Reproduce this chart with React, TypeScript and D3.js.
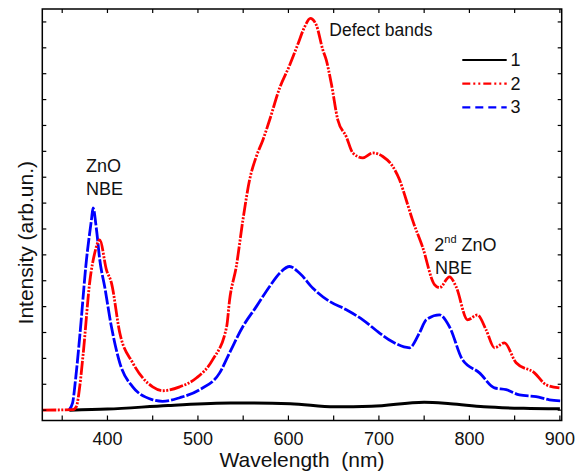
import React from "react";
import * as d3 from "d3";

// sample 1 (black, solid)
const wl1 = [358, 400, 467, 536, 602, 651, 692, 750, 779, 816, 860, 900];
const int1 = [0, 0.04, 0.18, 0.28, 0.25, 0.13, 0.15, 0.31, 0.25, 0.13, 0.07, 0.05];

// sample 2 (red, dash-dot-dot)
const wl2 = [
  328, 362, 365.7, 369.4, 373.3, 380.7, 386, 391.5, 398.9, 404.4, 413.6, 427.9, 450, 461, 479.8,
  498.6, 516.3, 531.7, 535, 542.4, 549.7, 557.1, 564.5, 571.8, 579.2, 590.3, 601, 610, 617.9, 624.2,
  630.8, 638.1, 641.8, 647.7, 654.6, 663.9, 671.2, 682.2, 693.3, 704.3, 715.4, 722.8, 730.2, 737.1,
  748.2, 761.4, 767, 778, 785.4, 797.9, 808.9, 818.5, 827.7, 838.7, 851.6, 871.9, 884.8, 899.5,
];
const int2 = [
  0, 0.02, 0.14, 0.92, 2.22, 5.03, 6.08, 6.58, 5.42, 4.92, 2.99, 1.83, 0.9, 0.75, 0.9,
  1.25, 1.95, 3.22, 4.26, 5.55, 7.35, 8.9, 9.8, 10.44, 11.21, 12.45, 13.3, 14.1, 14.81, 15.14,
  14.88, 13.91, 13.53, 12.56, 11.21, 10.57, 9.94, 9.75, 9.94, 9.8, 9.41, 8.9, 8.12, 7.35,
  6.31, 4.85, 4.73, 5.15, 4.76, 3.49, 3.68, 3.1, 2.41, 2.6, 1.83, 1.44, 0.98, 0.86,
];

// sample 3 (blue, dashed)
const wl3 = [
  357.4, 361.4, 365.1, 369.4, 376.8, 382.3, 384.1, 387.9, 391.5, 397, 404.4, 413.6, 427.9, 450,
  461, 479.8, 501.9, 524, 535, 549.7, 564.5, 579.2, 590.3, 601.3, 612.4, 627.1, 645.5, 664,
  682.2, 700.7, 715, 733.8, 744.9, 752.2, 766.9, 778, 792.3, 811.1, 827.7, 840.6, 855.3, 873.7,
  888.4, 901.3,
];
const int3 = [
  0, 0.27, 1.3, 2.85, 5.81, 7.35, 7.81, 6.97, 5.81, 4.76, 3.22, 1.83, 0.9, 0.4,
  0.34, 0.48, 0.79, 1.44, 2.22, 3.23, 4.0, 4.78, 5.29, 5.55, 5.29, 4.71, 4.2, 3.88,
  3.49, 2.98, 2.64, 2.41, 2.99, 3.49, 3.68, 3.22, 1.95, 1.44, 0.86, 0.79, 0.59, 0.52,
  0.4, 0.36,
];

const seriesNames = ["1", "2", "3"];
const seriesColors = ["#000000", "#ff0000", "#0000ff"];
// legend patterns, and tighter ones for the dense measured curves
const legendDash = ["none", "8,3,2,3,2,3", "8,5"];
const curveDash = ["none", "14,1.5,2,1.5,2,1.5", "14,2"];

const xMajorTicks = [400, 500, 600, 700, 800, 900];
const xMinorTicks = [350, 450, 550, 650, 750, 850];
const yTicks = d3.range(0, 16);

const W = 584;
const H = 473;
const left = 42.3;
const right = 561.7;
const top = 9;
const bottom = 420.5;

export default function App() {
  const x = d3.scaleLinear().domain([328, 902]).range([left, right]);
  const y = d3.scaleLinear().domain([-0.4, 15.5]).range([bottom, top]);

  const line = d3
    .line<[number, number]>()
    .x((d) => x(d[0]))
    .y((d) => y(d[1]))
    .curve(d3.curveMonotoneX);

  const series = [
    wl1.map((w, i) => [w, int1[i]] as [number, number]),
    wl2.map((w, i) => [w, int2[i]] as [number, number]),
    wl3.map((w, i) => [w, int3[i]] as [number, number]),
  ];

  const font = "'Liberation Sans', Arial, sans-serif";
  const allX = [...xMajorTicks, ...xMinorTicks];

  return (
    <svg
      width={W}
      height={H}
      style={{ position: "absolute", left: 0, top: 0, background: "#fff" }}
      fontFamily={font}
    >
      <defs>
        <clipPath id="plot">
          <rect x={left} y={top} width={right - left} height={bottom - top} />
        </clipPath>
      </defs>

      <g clipPath="url(#plot)">
        {/* draw order: black, blue, red on top */}
        {[0, 2, 1].map((i) => (
          <path
            key={i}
            d={line(series[i]) || ""}
            fill="none"
            stroke={seriesColors[i]}
            strokeWidth={i === 0 ? 3 : 2.8}
            strokeDasharray={curveDash[i]}
            strokeLinejoin="round"
          />
        ))}
      </g>

      {/* frame */}
      <rect
        x={left}
        y={top}
        width={right - left}
        height={bottom - top}
        fill="none"
        stroke="#000"
        strokeWidth={1.5}
      />

      {/* x ticks, bottom and top, pointing inward */}
      {allX.map((t) => (
        <g key={t}>
          <line x1={x(t)} x2={x(t)} y1={bottom} y2={bottom - 5} stroke="#000" strokeWidth={1.2} />
          <line x1={x(t)} x2={x(t)} y1={top} y2={top + 4} stroke="#000" strokeWidth={1.2} />
        </g>
      ))}
      {xMajorTicks.map((t) => (
        <text key={t} x={x(t)} y={445} textAnchor="middle" fontSize={18} fill="#111">
          {t}
        </text>
      ))}

      {/* y ticks, left and right */}
      {yTicks.map((t) => (
        <g key={t}>
          <line x1={left} x2={left + 4} y1={y(t)} y2={y(t)} stroke="#000" strokeWidth={1.2} />
          <line x1={right} x2={right - 4} y1={y(t)} y2={y(t)} stroke="#000" strokeWidth={1.2} />
        </g>
      ))}

      <text x={(left + right) / 2} y={467} textAnchor="middle" fontSize={21} fill="#111">
        Wavelength{"\u00a0\u00a0"}(nm)
      </text>
      <text
        transform={`translate(33,${(top + bottom) / 2 + 28}) rotate(-90)`}
        textAnchor="middle"
        fontSize={21}
        fill="#111"
      >
        Intensity (arb.un.)
      </text>

      {/* annotations */}
      <text x={329.3} y={35.5} fontSize={17.5} fill="#111">
        Defect bands
      </text>
      <text x={86} y={171.5} fontSize={18} fill="#111">
        ZnO
      </text>
      <text x={86} y={195} fontSize={18} fill="#111">
        NBE
      </text>
      <text x={434.3} y={250.7} fontSize={18} fill="#111">
        2
        <tspan fontSize={11} dy={-8}>
          nd
        </tspan>
        <tspan dy={8}> ZnO</tspan>
      </text>
      <text x={435} y={274} fontSize={18} fill="#111">
        NBE
      </text>

      {/* legend */}
      {seriesNames.map((name, i) => (
        <g key={name} transform={`translate(0,${60 + i * 23.7})`}>
          <line
            x1={462.3}
            x2={506.7}
            y1={0}
            y2={0}
            stroke={seriesColors[i]}
            strokeWidth={2.2}
            strokeDasharray={legendDash[i]}
          />
          <text x={510.5} y={6} fontSize={18} fill="#111">
            {name}
          </text>
        </g>
      ))}
    </svg>
  );
}
